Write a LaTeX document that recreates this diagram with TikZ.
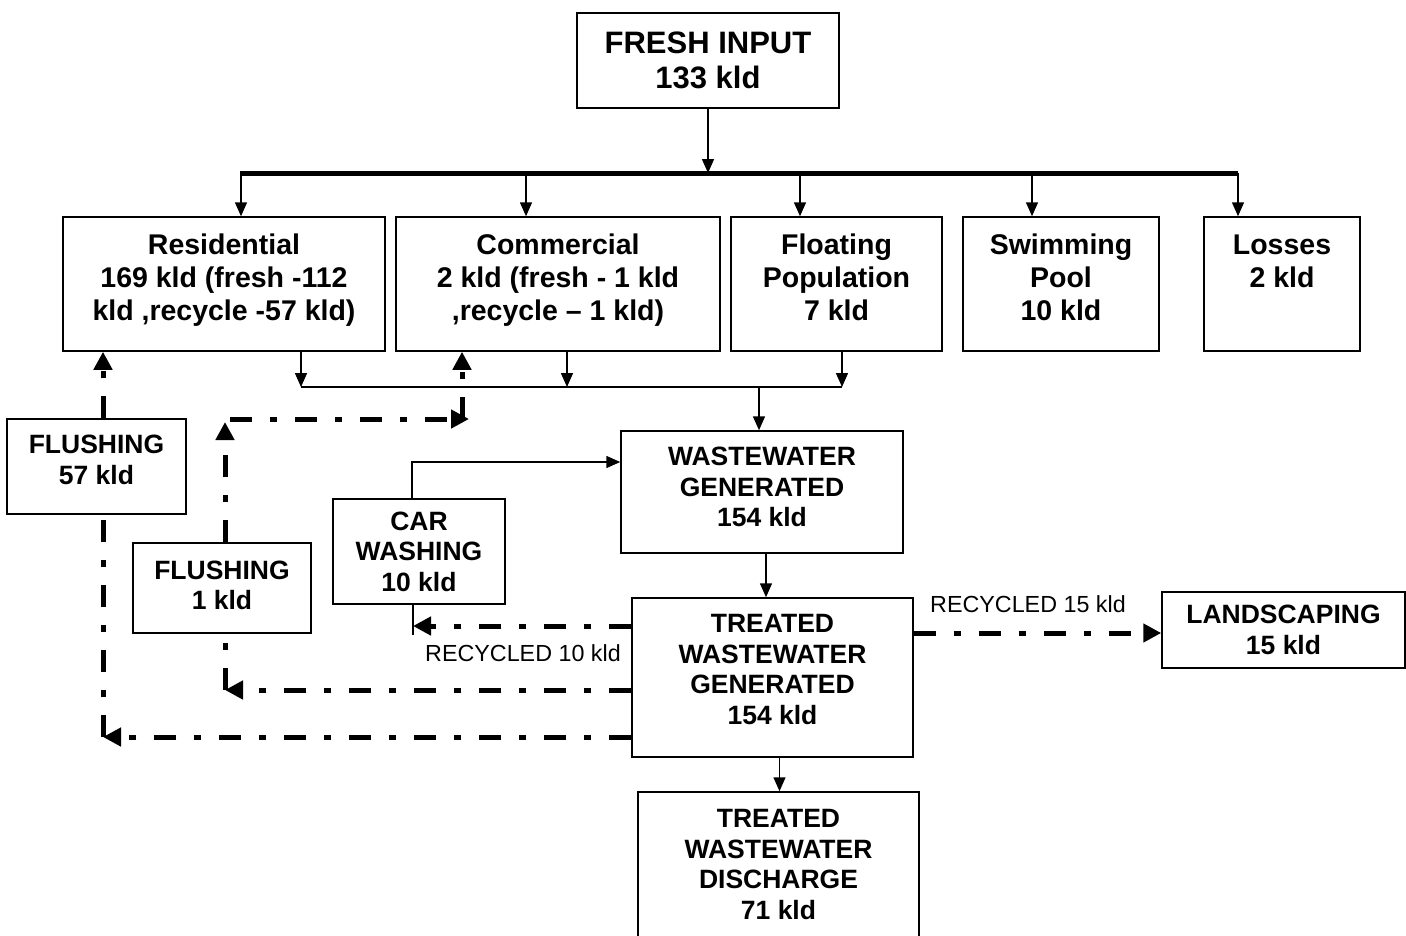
\documentclass[tikz,border=0pt]{standalone}
\usepackage{fontspec}
\setmainfont{Liberation Sans}
\usetikzlibrary{arrows.meta,calc}

% empty last line that pushes the text of a box upwards
\newcommand\lift[1]{\\[#1]\mbox{}}

\tikzset{
  box/.style={draw,line width=1.5pt,align=center,inner sep=0pt,
    font=\bfseries\fontsize{26.5}{30.5}\selectfont},
  toprow/.style={box,minimum height=134pt,font=\bfseries\fontsize{28.5}{33}\selectfont},
  flow/.style={line width=1.5pt,-{Triangle[length=14pt,width=12pt]}},
  plain/.style={line width=1.5pt},
  recyc/.style={line width=5pt,dash pattern=on 22pt off 18pt on 7pt off 18pt,
    -{Triangle[length=18pt,width=18pt]}},
  recycline/.style={line width=5pt,dash pattern=on 22pt off 18pt on 7pt off 18pt},
  note/.style={font=\fontsize{23.3}{27}\selectfont}
}

\begin{document}
\begin{tikzpicture}[x=1pt,y=-1pt]
  \useasboundingbox (0,0) rectangle (1406,935);

  % fresh water and the supply bar
  \node[box,minimum width=262pt,minimum height=95pt,
    font=\bfseries\fontsize{31}{35}\selectfont] (fresh) at (708,60.5) {FRESH INPUT\\133 kld};
  \coordinate (barL) at (240,173);
  \coordinate (barR) at (1238,173);
  \draw[line width=5pt] (barL) -- (barR);
  \draw[flow] (fresh.south) -- (fresh.south |- barL);

  % consumers
  \foreach \n/\x/\w/\t in {
    res/224/322/{Residential\\169 kld (fresh -112\\kld ,recycle -57 kld)\lift{-20pt}},
    com/558/324/{Commercial\\2 kld (fresh - 1 kld\\,recycle – 1 kld)\lift{-20pt}},
    flo/836.5/211/{Floating\\Population\\7 kld\lift{-20pt}},
    swim/1061/196/{Swimming\\Pool\\10 kld\lift{-20pt}},
    loss/1282/156/{Losses\\2 kld\lift{13pt}}}
  {
    \node[toprow,minimum width=\w pt] (\n) at (\x,284) {\t};
  }
  \foreach \n/\x in {res/241,com/526,flo/800,swim/1032,loss/1238}
  {
    \coordinate (b-\n) at (\x,173);
    \draw[flow] (b-\n) -- (b-\n |- \n.north);
  }

  % collection of wastewater
  \node[box,minimum width=282pt,minimum height=122pt] (ww) at (762,492) {WASTEWATER\\GENERATED\\154 kld\lift{-20.5pt}};
  \foreach \n/\x in {res/301,com/567,flo/842}
  {
    \coordinate (m-\n) at (\x,387);
    \draw[flow] (m-\n |- \n.south) -- (m-\n);
  }
  \draw[plain] (m-res) -- (m-flo);
  \coordinate (m-ww) at (759,387);
  \draw[flow] (m-ww) -- (m-ww |- ww.north);

  % reuse boxes
  \node[box,minimum width=179pt,minimum height=95pt] (fl57) at (96.5,466.5) {FLUSHING\\57 kld\lift{-16.5pt}};
  \node[box,minimum width=178pt,minimum height=90pt] (fl1) at (222,588) {FLUSHING\\1 kld\lift{-24.5pt}};
  \node[box,minimum width=172pt,minimum height=105pt] (car) at (419,551.5) {CAR\\WASHING\\10 kld};
  \node[box,minimum width=281pt,minimum height=159pt] (trt) at (772.5,677.5) {TREATED\\WASTEWATER\\GENERATED\\154 kld\lift{-14.5pt}};
  \node[box,minimum width=243pt,minimum height=76pt] (land) at (1283.5,630) {LANDSCAPING\\15 kld};
  \node[box,minimum width=281pt,minimum height=153pt] (dis) at (778.5,868.5) {TREATED\\WASTEWATER\\DISCHARGE\\71 kld\lift{-22.5pt}};

  \coordinate (cw) at (412,462);
  \draw[flow] (cw |- car.north) -- (cw) -- (ww.west |- cw);
  \draw[flow] ([xshift=4pt]ww.south) -- ([xshift=4pt]ww.south |- trt.north);
  \draw[flow] ([xshift=7pt]trt.south) -- ([xshift=7pt]trt.south |- dis.north);

  % recycled water
  \coordinate (r15) at (0,633);
  \draw[recyc] (trt.east |- r15) -- (land.west |- r15);
  \node[note] (t15) at (1028,604) {RECYCLED 15 kld};

  \coordinate (r10) at (413,626);
  \draw[recyc] (trt.west |- r10) -- (r10);
  \draw[plain] (r10 |- car.south) -- ++(0,30);
  \node[note] (t10) at (523,653) {RECYCLED 10 kld};

  \coordinate (r1) at (225,690);
  \coordinate (c1) at (225,419);
  \coordinate (c2) at (462,419);
  \draw[recyc] (trt.west |- r1) -- (r1);
  \draw[recycline] (r1) -- (r1 |- fl1.south);
  \draw[recyc] (r1 |- fl1.north) -- ([yshift=-3pt]c1);
  \draw[recyc] ([xshift=5pt]c1) -- ([xshift=7pt]c2);
  \draw[recyc] (c2) -- (c2 |- com.south);

  \coordinate (r57) at (103,737);
  \draw[recyc] (trt.west |- r57) -- (r57);
  \draw[recycline] (r57) -- (r57 |- fl57.south);
  \draw[recyc] (r57 |- fl57.north) -- (r57 |- res.south);
\end{tikzpicture}
\end{document}
